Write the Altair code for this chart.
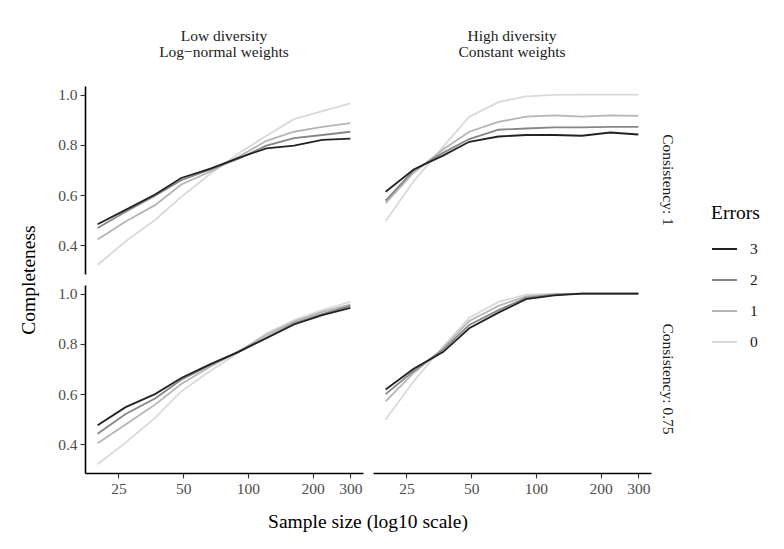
import altair as alt
import pandas as pd

sample_sizes = [20, 27, 37, 49, 67, 90, 122, 164, 222, 300]
error_levels = ["3", "2", "1", "0"]
diversity_labels = ["Low diversity|Log\u2212normal weights", "High diversity|Constant weights"]
consistency_labels = ["Consistency: 1", "Consistency: 0.75"]
x_ticks = [25, 50, 100, 200, 300]
y_ticks = [0.4, 0.6, 0.8, 1.0]

# Low diversity, consistency 1
low_c1_e3 = [0.484, 0.541, 0.602, 0.668, 0.705, 0.747, 0.786, 0.797, 0.820, 0.825]
low_c1_e2 = [0.469, 0.534, 0.597, 0.659, 0.702, 0.744, 0.797, 0.827, 0.839, 0.852]
low_c1_e1 = [0.423, 0.495, 0.560, 0.642, 0.694, 0.751, 0.816, 0.852, 0.871, 0.886]
low_c1_e0 = [0.322, 0.416, 0.501, 0.593, 0.685, 0.764, 0.836, 0.902, 0.934, 0.965]
# High diversity, consistency 1
high_c1_e3 = [0.613, 0.702, 0.757, 0.812, 0.833, 0.839, 0.839, 0.836, 0.849, 0.841]
high_c1_e2 = [0.578, 0.698, 0.768, 0.823, 0.860, 0.865, 0.869, 0.869, 0.871, 0.871]
high_c1_e1 = [0.568, 0.689, 0.781, 0.852, 0.891, 0.912, 0.917, 0.912, 0.917, 0.915]
high_c1_e0 = [0.497, 0.655, 0.792, 0.912, 0.970, 0.993, 0.999, 1.000, 1.000, 1.000]
# Low diversity, consistency 0.75
low_c75_e3 = [0.476, 0.548, 0.600, 0.664, 0.719, 0.767, 0.822, 0.877, 0.914, 0.943]
low_c75_e2 = [0.442, 0.521, 0.582, 0.657, 0.716, 0.767, 0.825, 0.881, 0.918, 0.951]
low_c75_e1 = [0.404, 0.479, 0.558, 0.640, 0.710, 0.769, 0.835, 0.888, 0.927, 0.956]
low_c75_e0 = [0.321, 0.407, 0.505, 0.611, 0.693, 0.763, 0.842, 0.894, 0.934, 0.967]
# High diversity, consistency 0.75
high_c75_e3 = [0.618, 0.701, 0.767, 0.862, 0.924, 0.978, 0.993, 1.000, 1.000, 1.000]
high_c75_e2 = [0.600, 0.692, 0.776, 0.875, 0.934, 0.983, 0.996, 1.000, 1.000, 1.000]
high_c75_e1 = [0.571, 0.684, 0.782, 0.891, 0.951, 0.989, 0.997, 1.000, 1.000, 1.000]
high_c75_e0 = [0.499, 0.651, 0.789, 0.904, 0.967, 0.996, 1.000, 1.000, 1.000, 1.000]

series = [
    (diversity_labels[0], consistency_labels[0], {"3": low_c1_e3, "2": low_c1_e2, "1": low_c1_e1, "0": low_c1_e0}),
    (diversity_labels[1], consistency_labels[0], {"3": high_c1_e3, "2": high_c1_e2, "1": high_c1_e1, "0": high_c1_e0}),
    (diversity_labels[0], consistency_labels[1], {"3": low_c75_e3, "2": low_c75_e2, "1": low_c75_e1, "0": low_c75_e0}),
    (diversity_labels[1], consistency_labels[1], {"3": high_c75_e3, "2": high_c75_e2, "1": high_c75_e1, "0": high_c75_e0}),
]

rows = []
for err in ["0", "1", "2", "3"]:
    for div, cons, d in series:
        for s, v in zip(sample_sizes, d[err]):
            rows.append({"size": s, "completeness": v, "errors": err,
                         "diversity": div, "consistency": cons})
df = pd.DataFrame(rows)

FONT = "Liberation Serif"

base = alt.Chart(df).mark_line(strokeWidth=1.8).encode(
    x=alt.X("size:Q",
            scale=alt.Scale(type="log", domain=[17.47, 343.5], nice=False),
            axis=alt.Axis(title=None, values=x_ticks, format="d")),
    y=alt.Y("completeness:Q",
            scale=alt.Scale(domain=[0.286, 1.034], nice=False, zero=False),
            axis=alt.Axis(title=None, values=y_ticks, format=".1f")),
    color=alt.Color("errors:N",
                    scale=alt.Scale(domain=error_levels,
                                    range=["#222222", "#868686", "#b5b5b5", "#d9d9d9"]),
                    legend=alt.Legend(title="Errors", orient="none",
                                      legendX=626, legendY=118,
                                      symbolType="stroke", symbolSize=625,
                                      symbolStrokeWidth=2, rowPadding=9,
                                      padding=0, titlePadding=12,
                                      labelFontSize=15.5, titleFontSize=19.5,
                                      labelColor="#1a1a1a", titleColor="#000",
                                      labelFont=FONT, titleFont=FONT,
                                      titleFontWeight="normal", labelOffset=12)),
    detail="errors:N",
).properties(width=278, height=188)

chart = base.facet(
    column=alt.Column("diversity:N", sort=diversity_labels,
                      header=alt.Header(title="Sample size (log10 scale)",
                                        titleOrient="bottom", labelOrient="top",
                                        labelExpr="split(datum.value, '|')",
                                        labelFontSize=15.5, labelFont=FONT,
                                        labelColor="#1a1a1a", labelLineHeight=16,
                                        labelPadding=26,
                                        titleFontSize=19.5, titleFont=FONT,
                                        titleFontWeight="normal", titleColor="#000",
                                        titlePadding=6)),
    row=alt.Row("consistency:N", sort=consistency_labels,
                header=alt.Header(title="Completeness",
                                  titleOrient="left", labelOrient="right",
                                  labelAngle=90, labelFontSize=15.5, labelFont=FONT,
                                  labelColor="#1a1a1a", labelPadding=8,
                                  titleFontSize=19.5, titleFont=FONT,
                                  titleFontWeight="normal", titleColor="#000",
                                  titlePadding=8)),
    spacing={"row": 11, "column": 10},
).properties(
    padding={"top": 20, "left": 10, "right": 5, "bottom": 5},
    background="white",
).configure(
    font=FONT
).configure_view(
    stroke=None
).configure_axis(
    grid=False, labelFont=FONT, labelFontSize=15.5, labelColor="#4d4d4d",
    tickColor="#333333", tickSize=5, tickWidth=1.1,
    domainColor="#000000", domainWidth=1.6, labelPadding=3,
)

chart.save("out.html", embed_options={"renderer": "svg", "actions": False})
